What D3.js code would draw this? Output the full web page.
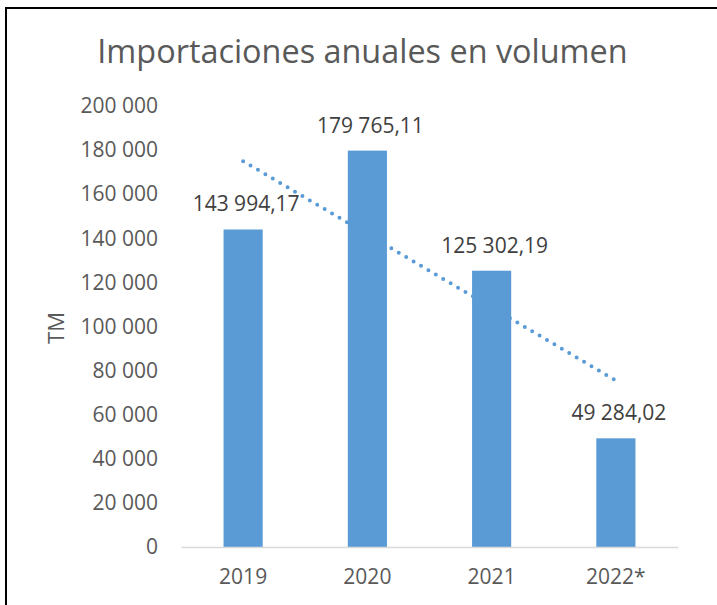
<!DOCTYPE html>
<html>
<head>
<meta charset="utf-8">
<script src="https://cdn.jsdelivr.net/npm/d3@7"></script>
<style>
    body { margin: 0; background: #ffffff; }
</style>
</head>
<body>
<div id="chart"></div>
<script>
const chart = {
    width: 717,
    height: 605
};

// data
var years = ["2019", "2020", "2021", "2022*"];
var volumes = [143994.17, 179765.11, 125302.19, 49284.02];
var volumeLabels = ["143 994,17", "179 765,11", "125 302,19", "49 284,02"];
var trendYears = ["2019", "2022*"];
var trendValues = [175000, 75500];
var yTicks = [0, 20000, 40000, 60000, 80000, 100000, 120000, 140000, 160000, 180000, 200000];

const font = "'Open Sans', 'DejaVu Sans', sans-serif";
const barColor = "#5B9BD5";

const svg = d3.select("#chart").append("svg")
    .attr("width", chart.width).attr("height", chart.height)

// outer frame (only top and left edges are inside the picture)
svg.append("rect")
    .attr("x", 6).attr("y", 8)
    .attr("width", chart.width + 20).attr("height", chart.height + 20)
    .attr("fill", "none").attr("stroke", "#000").attr("stroke-width", 2)

const x = d3.scaleBand()
    .domain(years)
    .range([181, 678])
    .padding(0)
const y = d3.scaleLinear()
    .domain([0, 200000])
    .range([547, 106])

const barW = x.bandwidth() * 0.315;

// title
svg.append("text")
    .attr("x", 362.5).attr("y", 63)
    .attr("text-anchor", "middle")
    .style("font-family", font).style("font-size", "32.4px")
    .attr("fill", "#595959")
    .text("Importaciones anuales en volumen")

// y axis labels (no axis line, no ticks)
const yAxis = svg.append("g")
    .attr("transform", "translate(158,0)")
    .call(d3.axisLeft(y).tickValues(yTicks).tickSize(0).tickPadding(0)
        .tickFormat(d => d3.format(",")(d).replace(/,/g, " ")))
yAxis.select(".domain").remove()
yAxis.selectAll("text")
    .style("font-family", font).style("font-size", "21px")
    .attr("fill", "#595959")

// y axis title
svg.append("text")
    .attr("transform", "translate(64,328) rotate(-90)")
    .attr("text-anchor", "middle")
    .style("font-family", font).style("font-size", "22px")
    .attr("fill", "#595959")
    .text("TM")

// bars
svg.selectAll(".bar").data(volumes)
    .enter().append("rect").attr("class", "bar")
    .attr("x", (d, i) => x(years[i]) + x.bandwidth() / 2 - barW / 2)
    .attr("y", d => y(d))
    .attr("width", barW)
    .attr("height", d => y(0) - y(d))
    .attr("fill", barColor)

// x axis
const xAxis = svg.append("g")
    .attr("transform", "translate(0," + y(0) + ")")
    .call(d3.axisBottom(x).tickSize(0).tickPadding(22))
xAxis.select(".domain").attr("stroke", "#D9D9D9").attr("stroke-width", 1.5)
xAxis.selectAll("text")
    .style("font-family", font).style("font-size", "21px")
    .attr("fill", "#595959")

// linear trend line
const trend = d3.line()
    .x((d, i) => x(trendYears[i]) + x.bandwidth() / 2)
    .y(d => y(d));
svg.append("path")
    .datum(trendValues)
    .attr("d", trend)
    .attr("fill", "none")
    .attr("stroke", barColor).attr("stroke-width", 4)
    .attr("stroke-linecap", "round")
    .attr("stroke-dasharray", "0 8.6")

// data labels
svg.selectAll(".label").data(volumes)
    .enter().append("text").attr("class", "label")
    .attr("x", (d, i) => x(years[i]) + x.bandwidth() / 2 + 3)
    .attr("y", d => y(d) - 18)
    .attr("text-anchor", "middle")
    .style("font-family", font).style("font-size", "21px")
    .attr("fill", "#404040")
    .text((d, i) => volumeLabels[i])
</script>
</body>
</html>
